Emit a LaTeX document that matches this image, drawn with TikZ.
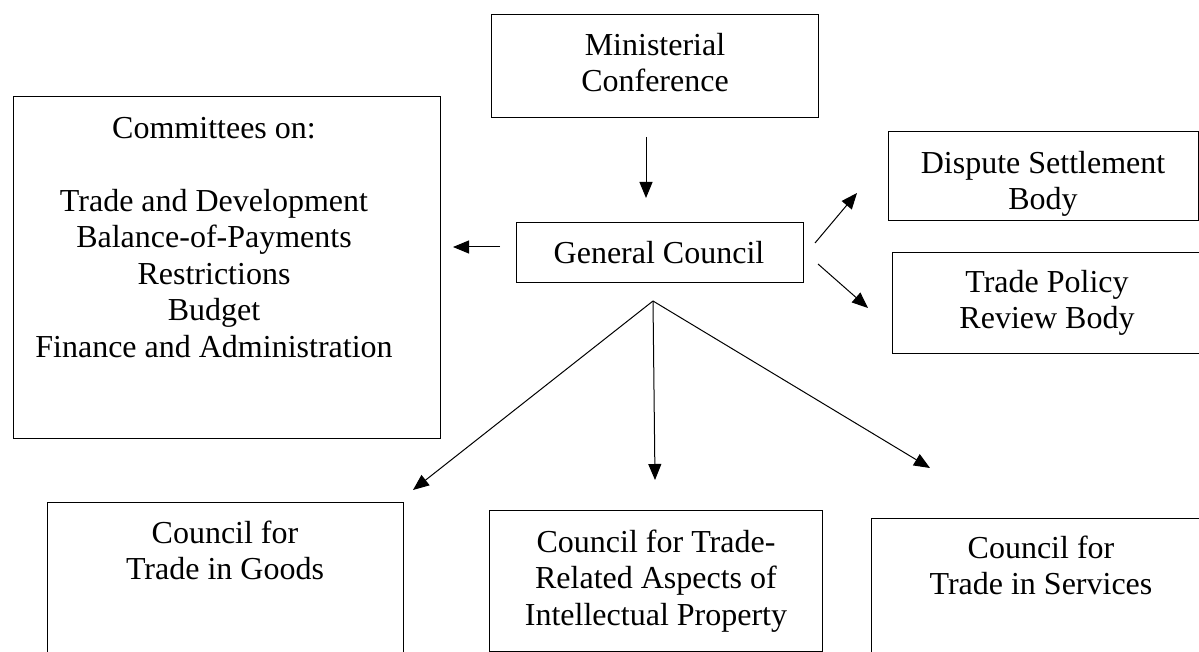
\documentclass[tikz,border=0pt]{standalone}
\usepackage{fontspec}
\setmainfont{Liberation Serif}
\usetikzlibrary{arrows.meta, calc}

\begin{document}
\begin{tikzpicture}[x=1pt, y=-1pt]
  \tikzset{
    orgbox/.style={draw, line width=1pt, anchor=north west, inner sep=0pt},
    boxtext/.style={anchor=north, inner sep=0pt, align=center, font=\fontsize{32}{36.5}\selectfont},
    link/.style={-{Triangle[length=16pt, width=13pt]}, line width=1pt}
  }

  \useasboundingbox (0,0) rectangle (1199,652);
  \clip (0,0) rectangle (1199,652);

  % Boxes, placed by their top left corner
  \node[orgbox, minimum width=327pt, minimum height=103pt] (minist) at (491,14) {};
  \node[orgbox, minimum width=427pt, minimum height=342pt] (cmte) at (13,96) {};
  \node[orgbox, minimum width=287pt, minimum height=60pt] (gc) at (516,222) {};
  \node[orgbox, minimum width=310pt, minimum height=89pt] (dsb) at (888,131) {};
  \node[orgbox, minimum width=312pt, minimum height=101pt] (tprb) at (892,252) {};
  \node[orgbox, minimum width=356pt, minimum height=200pt] (goods) at (47,502) {};
  \node[orgbox, minimum width=333pt, minimum height=141pt] (trips) at (489,510) {};
  \node[orgbox, minimum width=340pt, minimum height=200pt] (serv) at (871,518) {};

  % Box texts
  \node[boxtext] (ministText) at (655,29.5) {\strut Ministerial\\Conference};
  \node[boxtext] (cmteText) at (214,112.5) {\strut Committees on:\\[36.5pt]Trade and Development\\Balance-of-Payments\\Restrictions\\Budget\\Finance and Administration};
  \node[boxtext] (gcText) at (659,237.5) {\strut General Council};
  \node[boxtext] (dsbText) at (1043,147.5) {\strut Dispute Settlement\\Body};
  \node[boxtext] (tprbText) at (1047,266.5) {\strut Trade Policy\\Review Body};
  \node[boxtext] (goodsText) at (225,517.5) {\strut Council for\\Trade in Goods};
  \node[boxtext] (tripsText) at (656,526.5) {\strut Council for Trade-\\Related Aspects of\\Intellectual Property};
  \node[boxtext] (servText) at (1041,532.5) {\strut Council for\\Trade in Services};

  % Free arrow ends
  \coordinate (mcTail) at (646,137);
  \coordinate (mcHead) at (646,198);
  \coordinate (cmteTail) at (500,247);
  \coordinate (cmteHead) at (453,247);
  \coordinate (dsbTail) at (815,243);
  \coordinate (dsbHead) at (857,193);
  \coordinate (tprbTail) at (818,264);
  \coordinate (tprbHead) at (868,308);
  \coordinate (fan) at (653,301);
  \coordinate (goodsHead) at (413,490);
  \coordinate (tripsHead) at (655,480);
  \coordinate (servHead) at (930,468);

  % Arrows
  \draw[link] (mcTail) -- (mcHead);
  \draw[link] (cmteTail) -- (cmteHead);
  \draw[link] (dsbTail) -- (dsbHead);
  \draw[link] (tprbTail) -- (tprbHead);
  \draw[link] (fan) -- (goodsHead);
  \draw[link] (fan) -- (tripsHead);
  \draw[link] (fan) -- (servHead);
\end{tikzpicture}
\end{document}
